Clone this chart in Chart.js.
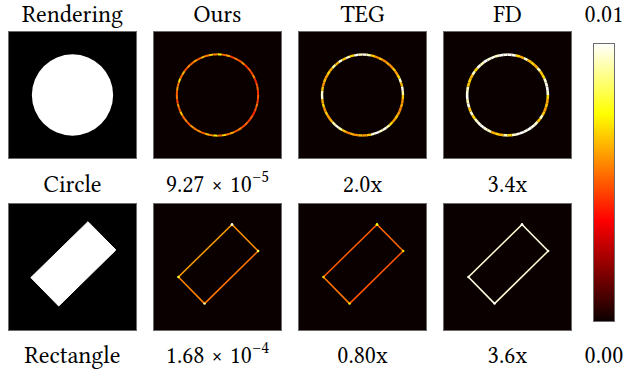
<!DOCTYPE html>
<html><head><meta charset="utf-8">
<script src="https://cdn.jsdelivr.net/npm/chart.js@4.4.1/dist/chart.umd.min.js"></script>
<style>
html,body{margin:0;padding:0;background:#fff;}
#wrap{position:relative;width:625px;height:374px;overflow:hidden;}
#wrap canvas{position:absolute;display:block;}
.lbl{position:absolute;width:145px;text-align:center;font-family:"Libertinus Serif","Linux Libertine O","Liberation Serif","DejaVu Serif","Noto Serif","Tinos","FreeSerif","Nimbus Roman","Times New Roman",serif;font-size:24px;line-height:24px;color:#000;white-space:nowrap;}
.sup{font-size:17px;position:relative;top:-10px;}
</style></head><body><div id="wrap"></div>
<script>
// ---------------- data ----------------
const columns = ['Rendering', 'Ours', 'TEG', 'FD'];
const rowNames = ['Circle', 'Rectangle'];
const oursMeanError = [9.27e-5, 1.68e-4];
const tegRatio = [2.0, 0.80];
const fdRatio = [3.4, 3.6];
const colorbarTicks = [0.00, 0.01];

// circle outline, per-sector pixel error (clockwise from top), in units of 1e-3
const circleErrOurs = [7.4,5.2,6.0,4.6,5.4,4.8,5.8,4.4,5.0,4.6,5.6,4.2,4.8,5.2,4.4,5.0,4.6,5.4,4.8,4.2,5.0,4.6,5.2,4.8,5.6,5.0,6.2,5.4,6.8,5.2,7.2,5.6,6.4,5.0,5.8,5.4,6.0,4.8,5.6,5.2,6.6,5.0,5.8,4.6,5.4,5.0,6.0,5.4,7.0,5.2,6.2,4.8,5.6,5.2,6.0,5.0,6.4,5.4,6.8,5.6];
const circleErrTEG  = [9.8,9.2,6.6,5.8,6.4,5.6,6.2,5.8,6.6,6.0,6.8,9.4,6.4,9.8,9.0,6.6,5.8,6.2,5.6,6.0,6.6,6.0,6.8,9.2,9.8,9.4,10.0,9.6,6.6,6.0,6.4,5.8,6.2,5.6,6.6,9.0,9.8,9.2,6.4,6.0,6.6,5.8,6.8,6.2,9.6,9.4,6.6,5.8,6.4,6.0,6.8,6.2,9.0,6.4,9.6,6.6,9.4,6.8,9.8,9.4];
const circleErrFD   = [10.0,9.8,6.8,6.2,9.4,6.4,6.8,6.2,9.2,6.6,6.8,9.6,9.8,10.0,9.6,6.8,6.2,6.6,6.0,6.6,9.4,6.6,9.6,9.8,10.0,9.8,10.0,9.8,9.4,6.8,9.2,6.4,6.8,6.2,9.4,9.6,10.0,9.8,9.4,6.8,9.6,6.6,9.8,9.2,10.0,9.8,9.4,6.6,6.8,6.4,9.4,6.8,9.8,9.2,10.0,9.6,9.8,9.4,10.0,9.8];
const circleRadius = 0.315;   // disc radius, fraction of image width

// rectangle corners in image coordinates (0..1, y up): top, right, bottom, left
const rectCornersX = [0.620, 0.836, 0.393, 0.177];
const rectCornersY = [0.854, 0.633, 0.195, 0.417];
// per-edge pixel error (top->right, right->bottom, bottom->left, left->top), units of 1e-3
const rectErrOurs = [5.8, 5.4, 5.6, 6.0];
const rectErrTEG  = [5.2, 4.9, 5.4, 5.0];
const rectErrFD   = [9.7, 9.6, 9.7, 9.6];
// per-corner pixel error, units of 1e-3
const rectCornerErrOurs = [9.5, 8.5, 9.0, 8.0];
const rectCornerErrTEG  = [7.5, 7.0, 7.5, 7.0];
const rectCornerErrFD   = [10.0, 9.8, 10.0, 9.8];

// ---------------- helpers ----------------
const wrap = document.getElementById('wrap');
const PX = [8, 153, 298, 443], PY = [31, 203], PW = 129, PH = 128;
const ERR_UNIT = 1e-3;

function hotRGB(t) {
  t = Math.max(0, Math.min(1, t));
  const a = 0.365079, b = 0.746032;
  const r = t < a ? 0.0416 + (1 - 0.0416) * t / a : 1;
  const g = t < a ? 0 : (t < b ? (t - a) / (b - a) : 1);
  const bl = t < b ? 0 : (t - b) / (1 - b);
  return [Math.round(r * 255), Math.round(g * 255), Math.round(bl * 255)];
}
function hot(t) { const c = hotRGB(t); return `rgb(${c[0]},${c[1]},${c[2]})`; }
function errColor(v) { return hot(v * ERR_UNIT / colorbarTicks[1]); }

function makeCanvas(x, y, w, h) {
  const c = document.createElement('canvas');
  c.width = w; c.height = h;
  c.style.left = x + 'px'; c.style.top = y + 'px';
  c.style.width = w + 'px'; c.style.height = h + 'px';
  wrap.appendChild(c);
  return c;
}
function addLabel(html, cx, top) {
  const d = document.createElement('div');
  d.className = 'lbl';
  d.innerHTML = html;
  d.style.left = (cx - 72.5) + 'px';
  d.style.top = top + 'px';
  wrap.appendChild(d);
}

const panelPlugin = {
  id: 'panel',
  beforeDraw(chart, args, opts) {
    const ctx = chart.ctx; ctx.save();
    ctx.fillStyle = opts.bg; ctx.fillRect(0, 0, chart.width, chart.height);
    ctx.restore();
  },
  afterDraw(chart, args, opts) {
    const ctx = chart.ctx; ctx.save();
    ctx.strokeStyle = opts.frame; ctx.lineWidth = 1;
    ctx.strokeRect(0.5, 0.5, chart.width - 1, chart.height - 1);
    ctx.restore();
  }
};
function baseOptions(bg) {
  return {
    responsive: false, animation: false, events: [],
    layout: { padding: 0 },
    plugins: { legend: { display: false }, tooltip: { enabled: false }, panel: { bg: bg, frame: '#6b6b6b' } }
  };
}
const BG_ERR = hot(0);

function discChart(x, y) {
  const c = makeCanvas(x, y, PW, PH);
  const o = baseOptions('#000');
  o.radius = circleRadius * PW; o.cutout = 0;
  new Chart(c, { type: 'doughnut',
    data: { labels: ['disc'], datasets: [{ data: [1], backgroundColor: ['#ffffff'], borderWidth: 0 }] },
    options: o, plugins: [panelPlugin] });
}
function ringChart(x, y, errs, width) {
  const c = makeCanvas(x, y, PW, PH);
  const o = baseOptions(BG_ERR);
  const outer = circleRadius * PW + 1.0;
  o.radius = outer;
  o.cutout = ((outer - width) / outer * 100).toFixed(2) + '%';
  new Chart(c, { type: 'doughnut',
    data: { labels: errs.map((_, i) => 's' + i),
      datasets: [{ data: errs.map(() => 1), backgroundColor: errs.map(errColor), borderWidth: 0 }] },
    options: o, plugins: [panelPlugin] });
}
function rectPoints() {
  const pts = rectCornersX.map((vx, i) => ({ x: vx, y: rectCornersY[i] }));
  pts.push({ x: rectCornersX[0], y: rectCornersY[0] });
  return pts;
}
function rectScales() {
  return { x: { type: 'linear', min: 0, max: 1, display: false }, y: { type: 'linear', min: 0, max: 1, display: false } };
}
function filledRectChart(x, y) {
  const c = makeCanvas(x, y, PW, PH);
  const o = baseOptions('#000'); o.scales = rectScales();
  new Chart(c, { type: 'scatter',
    data: { datasets: [{ data: rectPoints(), showLine: true, fill: 'shape', backgroundColor: '#ffffff',
      borderColor: '#ffffff', borderWidth: 1, pointRadius: 0, tension: 0 }] },
    options: o, plugins: [panelPlugin] });
}
function outlineRectChart(x, y, edgeErr, cornerErr) {
  const c = makeCanvas(x, y, PW, PH);
  const o = baseOptions(BG_ERR); o.scales = rectScales();
  const cornerColors = cornerErr.map(errColor); cornerColors.push(cornerColors[0]);
  new Chart(c, { type: 'scatter',
    data: { datasets: [{ data: rectPoints(), showLine: true, fill: false, borderWidth: 1.6, tension: 0,
      borderColor: errColor(edgeErr[0]),
      segment: { borderColor: ctx => errColor(edgeErr[ctx.p0DataIndex]) },
      pointRadius: 1.2, pointBorderWidth: 0, pointBackgroundColor: cornerColors }] },
    options: o, plugins: [panelPlugin] });
}

// ---------------- panels ----------------
discChart(PX[0], PY[0]);
ringChart(PX[1], PY[0], circleErrOurs, 2.0);
ringChart(PX[2], PY[0], circleErrTEG, 2.4);
ringChart(PX[3], PY[0], circleErrFD, 2.6);

filledRectChart(PX[0], PY[1]);
outlineRectChart(PX[1], PY[1], rectErrOurs, rectCornerErrOurs);
outlineRectChart(PX[2], PY[1], rectErrTEG, rectCornerErrTEG);
outlineRectChart(PX[3], PY[1], rectErrFD, rectCornerErrFD);

// ---------------- colorbar ----------------
(function () {
  const c = makeCanvas(593, 43, 22, 279);
  const o = baseOptions('#ffffff');
  o.scales = { x: { display: false }, y: { display: false, min: colorbarTicks[0], max: colorbarTicks[1] } };
  new Chart(c, { type: 'bar',
    data: { labels: ['hot'], datasets: [{ data: [colorbarTicks[1]], barPercentage: 1, categoryPercentage: 1, borderWidth: 0,
      backgroundColor: (ctx) => {
        const area = ctx.chart.chartArea;
        if (!area) return '#000';
        const g = ctx.chart.ctx.createLinearGradient(0, area.bottom, 0, area.top);
        [0, 0.365079, 0.746032, 1].forEach(t => g.addColorStop(t, hot(t)));
        return g;
      } }] },
    options: o, plugins: [panelPlugin] });
})();

// ---------------- text ----------------
function fmtSci(v) {
  const [m, e] = v.toExponential(2).split('e');
  const ex = parseInt(e, 10);
  return m + ' × 10<span class="sup">' + (ex < 0 ? '\u2212' + (-ex) : ex) + '</span>';
}
function fmtRatio(v) { return v.toPrecision(2) + 'x'; }
const centers = PX.map(x => x + PW / 2);
columns.forEach((t, i) => addLabel(t, centers[i], 3));
const rowTops = [173, 344];
rowNames.forEach((name, r) => {
  addLabel(name, centers[0], rowTops[r]);
  addLabel(fmtSci(oursMeanError[r]), centers[1], rowTops[r]);
  addLabel(fmtRatio(tegRatio[r]), centers[2], rowTops[r]);
  addLabel(fmtRatio(fdRatio[r]), centers[3], rowTops[r]);
});
addLabel(colorbarTicks[1].toFixed(2), 604, 3);
addLabel(colorbarTicks[0].toFixed(2), 604, 344);
</script></body></html>
